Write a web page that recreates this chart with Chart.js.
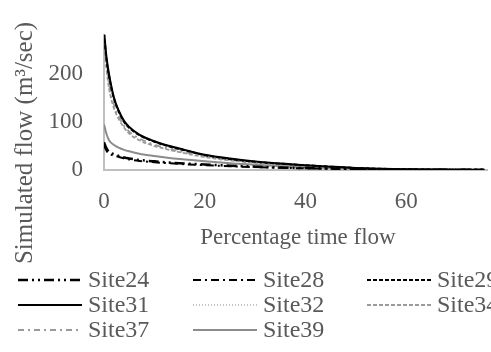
<!DOCTYPE html>
<html lang="en">
<head>
    <meta charset="UTF-8">
    <title>Simulated flow duration curves</title>
    <script src="https://cdn.jsdelivr.net/npm/chart.js@4"></script>
    <style>
        html, body{
            margin: 0;
            padding: 0;
            background: #fff;
        }
        #wrap{
            width: 491px;
            height: 352px;
        }
    </style>
</head>
<body>
    <div id="wrap">
        <canvas id="chartCanvas" width="491" height="352"></canvas>
    </div>

    <script>
        // percentage of time flow is exceeded
        var pct    = [0, 0.5, 1, 2, 3, 4, 5, 7, 10, 13, 16, 20, 25, 30, 35, 40, 45, 50, 55, 60, 65, 70, 75.5];
        var site24 = [58, 45, 38, 33, 29, 26, 24, 21, 18, 15.5, 13.5, 11.5, 9, 7, 5, 4, 3, 2, 1.2, 0.8, 0.5, 0.4, 0.3];
        var site28 = [52, 40, 34, 30, 27, 24, 22, 19, 16, 14, 12, 10, 8, 6, 4.5, 3.5, 2.5, 1.7, 1, 0.7, 0.5, 0.3, 0.3];
        var site29 = [285, 230, 195, 148, 120, 100, 88, 73, 59, 49, 41, 31, 23, 17, 13, 10, 7, 4.2, 2.5, 1.5, 1, 0.7, 0.5];
        var site31 = [290, 235, 200, 150, 122, 102, 90, 74, 60, 50, 42, 32, 24, 18, 13.5, 10, 7, 4.3, 2.5, 1.5, 1, 0.7, 0.5];
        var site32 = [280, 225, 190, 145, 118, 98, 87, 72, 58, 48, 40, 31, 23, 17, 12.5, 9.5, 6.5, 4, 2.5, 1.5, 1, 0.6, 0.4];
        var site34 = [270, 210, 170, 128, 105, 88, 76, 62, 50, 42, 35, 27, 20, 15, 11, 8, 5.5, 3.5, 2, 1.2, 0.8, 0.5, 0.4];
        var site37 = [275, 220, 180, 135, 110, 92, 80, 66, 53, 44, 37, 29, 21, 16, 11.5, 8.5, 6, 3.8, 2.3, 1.4, 0.9, 0.6, 0.4];
        var site39 = [95, 75, 62, 52, 46, 42, 39, 34, 29, 25, 22, 18, 14, 11, 8, 6, 4, 2.5, 1.5, 1, 0.7, 0.5, 0.4];

        var siteNames = ['Site24', 'Site28', 'Site29', 'Site31', 'Site32', 'Site34', 'Site37', 'Site39'];
        var siteValues = [site24, site28, site29, site31, site32, site34, site37, site39];
        var xTicks = [0, 20, 40, 60];
        var yTicks = [0, 100, 200];

        var lineStyles = [
            { color: '#000000', width: 2.5, dash: [10, 4, 2, 4, 2, 4] },
            { color: '#000000', width: 2,   dash: [8, 4, 2, 4] },
            { color: '#000000', width: 2,   dash: [4, 2] },
            { color: '#000000', width: 2,   dash: [] },
            { color: '#8c8c8c', width: 1.2, dash: [1, 2] },
            { color: '#9a9a9a', width: 1.8, dash: [4, 2] },
            { color: '#9a9a9a', width: 1.8, dash: [6, 4, 2, 4] },
            { color: '#8c8c8c', width: 2,   dash: [] }
        ];

        var textColor = '#595959';
        var fontFamily = "'Liberation Serif', 'Times New Roman', serif";

        // legend + axis titles drawn by hand, laid out like the original figure
        var extras = {
            id: 'extras',
            afterDraw: function(chart){
                var ctx = chart.ctx;
                ctx.save();
                ctx.fillStyle = textColor;
                ctx.textBaseline = 'middle';

                ctx.font = '23px ' + fontFamily;
                ctx.textAlign = 'center';
                ctx.fillText('Percentage time flow', 298, 238);

                ctx.save();
                ctx.font = '25px ' + fontFamily;
                ctx.translate(25, 143);
                ctx.rotate(-Math.PI / 2);
                ctx.fillText('Simulated flow (m\u00b3/sec)', 0, 0);
                ctx.restore();

                var colLine = [18, 193, 367];
                var colText = [88, 263, 437];
                var rowY = [280, 305, 330];
                ctx.font = '24px ' + fontFamily;
                ctx.textAlign = 'left';
                chart.data.datasets.forEach(function(ds, i){
                    var c = i % 3, r = Math.floor(i / 3);
                    var st = lineStyles[i];
                    ctx.beginPath();
                    ctx.setLineDash(st.dash);
                    ctx.lineWidth = st.width;
                    ctx.strokeStyle = st.color;
                    ctx.moveTo(colLine[c], rowY[r]);
                    ctx.lineTo(colText[c] - 6, rowY[r]);
                    ctx.stroke();
                    ctx.setLineDash([]);
                    ctx.fillText(ds.label, colText[c], rowY[r] + 1);
                });
                ctx.restore();
            }
        };

        var datasets = siteNames.map(function(name, i){
            return {
                label: name,
                data: pct.map(function(p, j){ return { x: p, y: siteValues[i][j] }; }),
                borderColor: lineStyles[i].color,
                borderWidth: lineStyles[i].width,
                borderDash: lineStyles[i].dash,
                pointRadius: 0,
                fill: false,
                cubicInterpolationMode: 'monotone'
            };
        });

        const ctx = document.getElementById('chartCanvas').getContext('2d');
        const chart = new Chart(ctx, {
            type: 'line',
            data: { datasets: datasets },
            plugins: [extras],
            options: {
                responsive: false,
                animation: false,
                layout: {
                    padding: { left: 24, right: 4, top: 15, bottom: 132 }
                },
                plugins: {
                    legend: { display: false },
                    tooltip: { enabled: false }
                },
                scales: {
                    x: {
                        type: 'linear',
                        min: 0,
                        max: 76,
                        afterFit: function(scale){ scale.height = 50; },
                        afterBuildTicks: function(scale){
                            scale.ticks = xTicks.map(function(v){ return { value: v }; });
                        },
                        grid: { display: false, drawTicks: false },
                        border: { display: true, color: '#bfbfbf', width: 2 },
                        ticks: {
                            padding: 18,
                            color: textColor,
                            font: { family: fontFamily, size: 23 },
                            maxRotation: 0
                        }
                    },
                    y: {
                        min: 0,
                        max: 282,
                        afterFit: function(scale){ scale.width = 80; },
                        afterBuildTicks: function(scale){
                            scale.ticks = yTicks.map(function(v){ return { value: v }; });
                        },
                        grid: { display: false, drawTicks: false },
                        border: { display: true, color: '#bfbfbf', width: 2 },
                        ticks: {
                            padding: 21,
                            color: textColor,
                            font: { family: fontFamily, size: 23 }
                        }
                    }
                }
            }
        });
    </script>
</body>
</html>
